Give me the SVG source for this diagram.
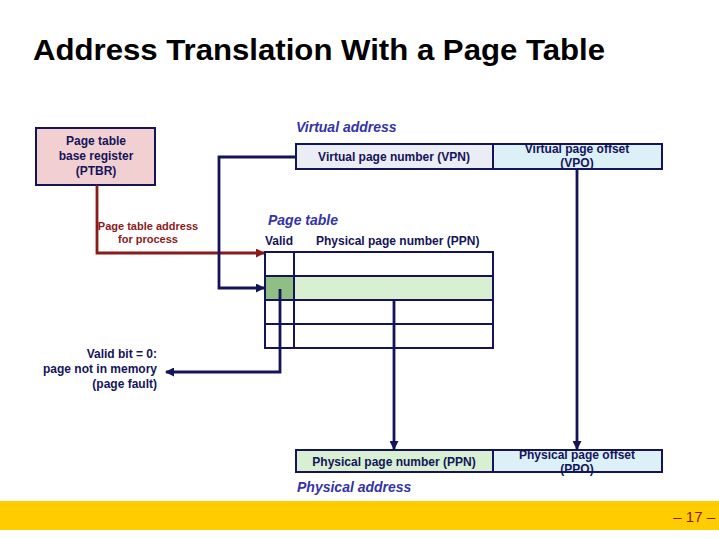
<svg xmlns="http://www.w3.org/2000/svg" width="719" height="539" viewBox="0 0 719 539">
<defs>
<style>
.t{font-family:"Liberation Sans",Arial,sans-serif;}
.box{stroke:#14145a;stroke-width:2;}
.lbl{font-family:"Liberation Sans",Arial,sans-serif;font-weight:bold;font-size:12px;fill:#14145a;}
.hd{font-family:"Liberation Sans",Arial,sans-serif;font-weight:bold;font-style:italic;font-size:14px;fill:#3333aa;}
.blue{fill:none;stroke:#14145a;stroke-width:2.8;}
.red{fill:none;stroke:#8b1a1a;stroke-width:2.8;}
</style>
<marker id="ab" markerWidth="9" markerHeight="9" refX="8" refY="4.5" orient="auto" markerUnits="userSpaceOnUse"><path d="M0,0 L9,4.5 L0,9 z" fill="#14145a"/></marker>
<marker id="ar" markerWidth="9" markerHeight="9" refX="8" refY="4.5" orient="auto" markerUnits="userSpaceOnUse"><path d="M0,0 L9,4.5 L0,9 z" fill="#8b1a1a"/></marker>
</defs>
<rect width="719" height="539" fill="#ffffff"/>
<text class="t" x="33" y="60" font-size="29" font-weight="bold" fill="#000" textLength="572" lengthAdjust="spacingAndGlyphs">Address Translation With a Page Table</text>

<g id="ptbr">
<rect class="box" x="36" y="128" width="119" height="57" fill="#f2d0d2"/>
<text class="lbl" text-anchor="middle" x="96" y="145">Page table</text>
<text class="lbl" text-anchor="middle" x="96" y="160">base register</text>
<text class="lbl" text-anchor="middle" x="96" y="175">(PTBR)</text>
</g>

<g id="virtual-address">
<text class="hd" x="296" y="132">Virtual address</text>
<rect class="box" x="296" y="144" width="197" height="25" fill="#eaedf3"/>
<text class="lbl" x="394" y="161" text-anchor="middle">Virtual page number (VPN)</text>
<rect class="box" x="493" y="144" width="169" height="25" fill="#dcf0f8"/>
<text class="lbl" x="577" y="153" text-anchor="middle">Virtual page offset</text>
<text class="lbl" x="577" y="167" text-anchor="middle">(VPO)</text>
</g>

<g id="page-table">
<text class="hd" x="268" y="225">Page table</text>
<text class="lbl" x="265" y="245">Valid</text>
<text class="lbl" x="316" y="245">Physical page number (PPN)</text>
<rect x="265" y="276" width="228" height="24" fill="#d8efd2"/>
<rect x="265" y="276" width="29" height="24" fill="#8fbf82"/>
<g fill="none" stroke="#14145a" stroke-width="2">
<rect x="265" y="252" width="228" height="96"/>
<line x1="294" y1="252" x2="294" y2="348"/>
<line x1="265" y1="276" x2="493" y2="276"/>
<line x1="265" y1="300" x2="493" y2="300"/>
<line x1="265" y1="324" x2="493" y2="324"/>
</g>
</g>

<g id="physical-address">
<rect class="box" x="296" y="450" width="197" height="22" fill="#d8efd2"/>
<text class="lbl" x="394" y="466" text-anchor="middle">Physical page number (PPN)</text>
<rect class="box" x="493" y="450" width="169" height="22" fill="#dcf0f8"/>
<text class="lbl" x="577" y="459" text-anchor="middle">Physical page offset</text>
<text class="lbl" x="577" y="473" text-anchor="middle">(PPO)</text>
<text class="hd" x="297" y="492">Physical address</text>
</g>

<g id="labels">
<text class="t" font-size="11" font-weight="bold" fill="#8b1a1a" text-anchor="middle" x="148" y="230">Page table address</text>
<text class="t" font-size="11" font-weight="bold" fill="#8b1a1a" text-anchor="middle" x="148" y="243">for process</text>
<text class="lbl" text-anchor="end" x="157" y="358">Valid bit = 0:</text>
<text class="lbl" text-anchor="end" x="157" y="373">page not in memory</text>
<text class="lbl" text-anchor="end" x="157" y="388">(page fault)</text>
</g>

<g id="connectors">
<path class="red" d="M97,185 V253 H264" marker-end="url(#ar)"/>
<path class="blue" d="M296,157 H219 V288 H264" marker-end="url(#ab)"/>
<path class="blue" d="M280,289 V372 H166" marker-end="url(#ab)"/>
<path class="blue" d="M394,300 V449" marker-end="url(#ab)"/>
<path class="blue" d="M577,169 V449" marker-end="url(#ab)"/>
</g>

<g id="footer">
<rect x="0" y="501" width="719" height="29" fill="#ffcc00"/>
<text class="t" font-size="15" fill="#8b1a1a" text-anchor="end" x="715" y="522">– 17 –</text>
</g>
</svg>
